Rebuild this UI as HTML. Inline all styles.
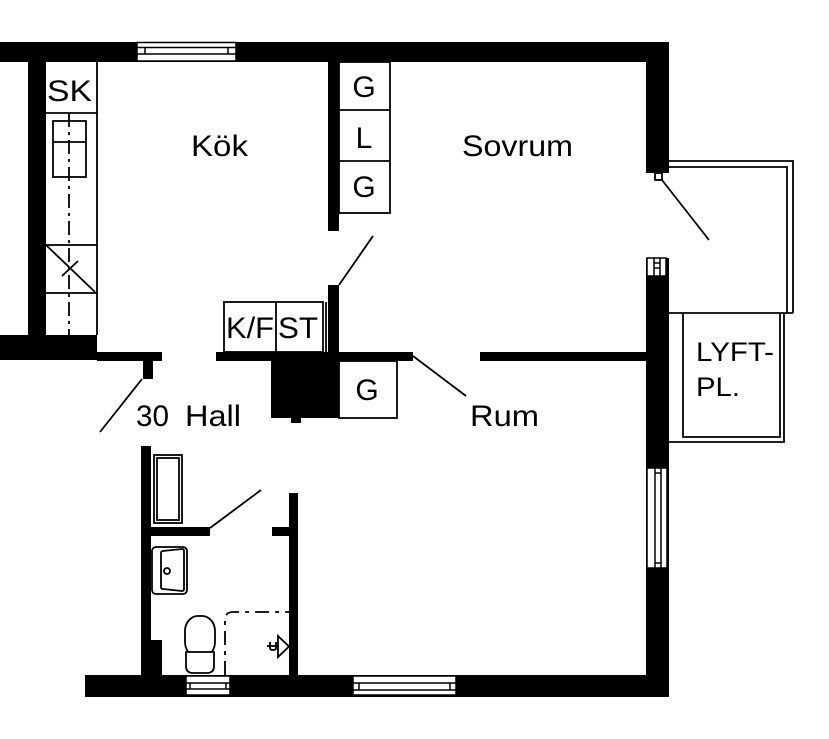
<!DOCTYPE html>
<html><head><meta charset="utf-8"><style>
html,body{margin:0;padding:0;background:#fff;}
svg{display:block;}
text{font-family:"Liberation Sans",Arial,sans-serif;fill:#000;}
</style></head><body>
<svg width="829" height="739" viewBox="0 0 829 739" xmlns="http://www.w3.org/2000/svg">
<rect x="0" y="0" width="829" height="739" fill="#fff"/>
<g fill="#000">
<!-- walls -->
<rect x="0" y="42" width="669" height="20"/>
<rect x="28" y="62" width="18" height="273"/>
<rect x="0" y="335" width="97" height="25"/>
<rect x="97" y="352" width="65" height="9"/>
<rect x="143" y="361" width="10" height="18"/>
<rect x="328" y="62" width="11" height="169"/>
<rect x="328" y="285" width="11" height="67"/>
<rect x="216" y="352" width="197" height="9"/>
<rect x="271" y="361" width="68" height="57"/>
<rect x="291" y="418" width="10" height="5"/>
<rect x="480" y="352" width="166" height="9"/>
<rect x="646" y="42" width="23" height="131"/>
<rect x="646" y="258" width="23" height="439"/>
<rect x="85" y="675" width="584" height="22"/>
<rect x="141" y="446" width="10" height="229"/>
<rect x="151" y="527" width="59" height="9"/>
<rect x="289" y="493" width="9" height="182"/>
<rect x="272" y="527" width="17" height="9"/>
<rect x="141" y="640" width="21" height="35"/>
</g>

<g fill="none" stroke="#000" stroke-width="1.8">
<!-- kitchen counter -->
<line x1="97" y1="62" x2="97" y2="335"/>
<line x1="46" y1="113" x2="97" y2="113"/>
<line x1="46" y1="245" x2="97" y2="245"/>
<line x1="46" y1="293" x2="97" y2="293"/>
<rect x="53" y="121" width="33" height="56"/>
<line x1="53" y1="142" x2="86" y2="142"/>
<line x1="69" y1="113" x2="69" y2="335" stroke-dasharray="14 5 3 5"/>
<line x1="46" y1="245" x2="95" y2="292"/>
<line x1="62" y1="276" x2="78" y2="261"/>
<!-- GLG cabinets -->
<rect x="339" y="62" width="51" height="151"/>
<line x1="339" y1="110" x2="390" y2="110"/>
<line x1="339" y1="161" x2="390" y2="161"/>
<!-- door kitchen/sovrum -->
<line x1="339" y1="285" x2="373" y2="236"/>
<!-- K/F ST -->
<rect x="224" y="302" width="99" height="50"/>
<line x1="276" y1="302" x2="276" y2="352"/>
<line x1="326" y1="302" x2="326" y2="352"/>
<!-- hall door -->
<line x1="142" y1="379" x2="100" y2="432"/>
<!-- G box -->
<rect x="339" y="361" width="58" height="57"/>
<!-- rum door -->
<line x1="413" y1="356" x2="466" y2="396"/>
<!-- balcony door -->
<rect x="655" y="173" width="7" height="7" fill="#fff"/>
<line x1="662" y1="180" x2="709" y2="240"/>
<!-- balcony -->
<polyline points="669,161 793,161 793,313"/>
<polyline points="669,167 787,167 787,313"/>
<line x1="669" y1="313" x2="793" y2="313"/>
<!-- lyft -->
<polyline points="683,313 683,437 780,437 780,313"/>
<polyline points="784,313 784,442 669,442"/>
<!-- bathtub -->
<rect x="154" y="455" width="28" height="68"/>
<rect x="157" y="458" width="22" height="62"/>
<!-- bath door -->
<line x1="210" y1="528" x2="261" y2="490"/>
<!-- sink -->
<rect x="152" y="547" width="35" height="47" rx="4"/>
<path d="M161,553 Q161,551 163,551 L182,549 Q184,549 184,551 L184,589 Q184,591 182,591 L163,589 Q161,589 161,587 Z"/>
<circle cx="167" cy="571" r="3"/>
<!-- toilet -->
<rect x="185" y="616" width="30" height="41" rx="13" ry="15" fill="#fff"/>
<path d="M186,652 L214,652 L214,666 Q214,673 207,673 L193,673 Q186,673 186,666 Z" fill="#fff"/>
<!-- shower -->
<path d="M225,675 L225,620 Q225,612 233,612 L289,612" stroke-dasharray="14 6 4 6"/>
<path d="M278,636 L278,657 L289,646.5 Z"/>
<line x1="267" y1="646" x2="278" y2="646"/>
<path d="M270,642 L270,648 Q270,650 273,650 Q276,650 276,648 L276,642"/>
</g>

<!-- windows -->
<g stroke="#000" stroke-width="1.5">
<rect x="137" y="42.5" width="99" height="18.5" fill="#fff"/>
<line x1="137" y1="47.5" x2="236" y2="47.5"/>
<line x1="137" y1="54" x2="236" y2="54"/>
<line x1="145" y1="47.5" x2="145" y2="54"/>
<line x1="228" y1="47.5" x2="228" y2="54"/>
<rect x="186" y="676" width="44" height="19" fill="#fff"/>
<line x1="186" y1="683" x2="230" y2="683"/>
<line x1="186" y1="689" x2="230" y2="689"/>
<line x1="190" y1="683" x2="190" y2="689"/>
<line x1="226" y1="683" x2="226" y2="689"/>
<rect x="353" y="676" width="103" height="19" fill="#fff"/>
<line x1="353" y1="683" x2="456" y2="683"/>
<line x1="353" y1="690" x2="456" y2="690"/>
<line x1="359" y1="683" x2="359" y2="690"/>
<line x1="450" y1="683" x2="450" y2="690"/>
<rect x="647" y="468" width="20" height="100" fill="#fff"/>
<line x1="655" y1="468" x2="655" y2="568"/>
<line x1="661" y1="468" x2="661" y2="568"/>
<line x1="655" y1="473" x2="661" y2="473"/>
<line x1="655" y1="563" x2="661" y2="563"/>
<rect x="647" y="258" width="19" height="18" fill="#fff"/>
<line x1="654" y1="258" x2="654" y2="276"/>
<line x1="660" y1="258" x2="660" y2="276"/>
<line x1="654" y1="263" x2="660" y2="263"/>
<line x1="654" y1="268" x2="660" y2="268"/>
</g>

<!-- labels -->
<g font-size="30">
<text x="47" y="101" textLength="45" lengthAdjust="spacingAndGlyphs">SK</text>
<text x="191" y="156" textLength="57" lengthAdjust="spacingAndGlyphs">Kök</text>
<text x="462" y="156" textLength="111" lengthAdjust="spacingAndGlyphs">Sovrum</text>
<text x="136" y="426" textLength="33" lengthAdjust="spacingAndGlyphs">30</text>
<text x="185" y="426" textLength="56" lengthAdjust="spacingAndGlyphs">Hall</text>
<text x="470" y="426" textLength="69" lengthAdjust="spacingAndGlyphs">Rum</text>
</g>
<g font-size="30">
<text x="226" y="338" textLength="48" lengthAdjust="spacingAndGlyphs">K/F</text>
<text x="278" y="338" textLength="40" lengthAdjust="spacingAndGlyphs">ST</text>
<text x="364" y="97" text-anchor="middle">G</text>
<text x="364" y="148" text-anchor="middle">L</text>
<text x="364" y="197" text-anchor="middle">G</text>
<text x="367" y="400" text-anchor="middle">G</text>
</g>
<g font-size="27">
<text x="696" y="361" textLength="78" lengthAdjust="spacingAndGlyphs">LYFT-</text>
<text x="696" y="396" textLength="44" lengthAdjust="spacingAndGlyphs">PL.</text>
</g>
</svg>
</body></html>
